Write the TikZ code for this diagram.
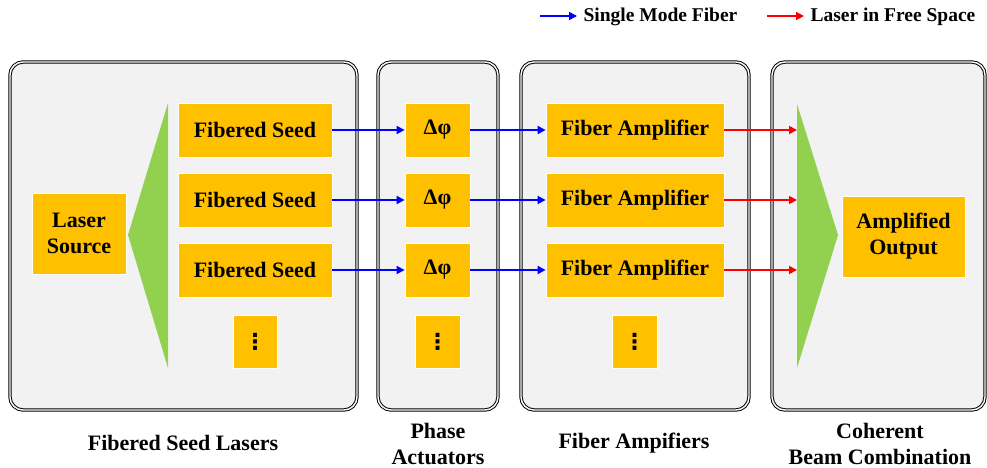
\documentclass[tikz,border=0pt]{standalone}
\usepackage{fontspec}
\setmainfont{Liberation Serif}
\newfontfamily\symfont{DejaVu Sans}
\usetikzlibrary{arrows.meta}
\definecolor{gold}{HTML}{FFC000}
\definecolor{leaf}{HTML}{92D050}
\definecolor{panel}{HTML}{F2F2F2}

\begin{document}
\begin{tikzpicture}[x=1pt,y=-1pt,
    font=\bfseries\fontsize{22}{26}\selectfont,
    stage/.style={draw=black, double=white, double distance=1.4pt, line width=1pt,
        fill=panel, rounded corners=13pt},
    unit/.style={fill=gold, draw=white, line width=0.8pt, align=center, inner sep=0pt},
    fiberarrow/.style={blue, line width=1.7pt, -{Triangle[length=8pt,width=8pt]}},
    freearrow/.style={red, line width=1.7pt, -{Triangle[length=8pt,width=8pt]}}]
    \useasboundingbox (0,0) rectangle (987,468);

    % panels
    \draw[stage] (10,62) rectangle (357,410);
    \draw[stage] (378,62) rectangle (498,410);
    \draw[stage] (521,62) rectangle (749,410);
    \draw[stage] (772,62) rectangle (985,410);

    % splitter and combiner
    \fill[leaf] (168,103) -- (168,368) -- (128,235) -- cycle;
    \fill[leaf] (797,104) -- (797,368) -- (838,235) -- cycle;
    \coordinate (comb) at (797,235);

    \node[unit, minimum width=94, minimum height=81] (source) at (79,233.5) {Laser\\Source};

    \node[unit, minimum width=154, minimum height=54] (seedA) at (255,130) {Fibered Seed};
    \node[unit, minimum width=154, minimum height=54] (seedB) at (255,200) {Fibered Seed};
    \node[unit, minimum width=154, minimum height=54] (seedC) at (255,270) {Fibered Seed};
    \node[unit, minimum width=44, minimum height=53] (seedD) at (255,341.5) {\symfont ⋮};

    \node[unit, minimum width=65, minimum height=54] (phaseA) at (437.5,130) {Δφ};
    \node[unit, minimum width=65, minimum height=54] (phaseB) at (437.5,200) {Δφ};
    \node[unit, minimum width=65, minimum height=54] (phaseC) at (437.5,270) {Δφ};
    \node[unit, minimum width=45, minimum height=53] (phaseD) at (437.5,341.5) {\symfont ⋮};

    \node[unit, minimum width=178, minimum height=54] (ampA) at (635,130) {Fiber Amplifier};
    \node[unit, minimum width=178, minimum height=54] (ampB) at (635,200) {Fiber Amplifier};
    \node[unit, minimum width=178, minimum height=54] (ampC) at (635,270) {Fiber Amplifier};
    \node[unit, minimum width=45, minimum height=53] (ampD) at (634.5,341.5) {\symfont ⋮};

    \node[unit, minimum width=123, minimum height=81] (output) at (903.5,236.5) {Amplified\\Output};

    \draw[fiberarrow] (seedA) -- (phaseA);
    \draw[fiberarrow] (seedB) -- (phaseB);
    \draw[fiberarrow] (seedC) -- (phaseC);
    \draw[fiberarrow] (phaseA) -- (ampA);
    \draw[fiberarrow] (phaseB) -- (ampB);
    \draw[fiberarrow] (phaseC) -- (ampC);
    \draw[freearrow] (ampA) -- (ampA -| comb);
    \draw[freearrow] (ampB) -- (ampB -| comb);
    \draw[freearrow] (ampC) -- (ampC -| comb);

    % legend
    \coordinate (smfA) at (540,16);
    \coordinate (smfB) at (577,16);
    \coordinate (fsA) at (767,16);
    \coordinate (fsB) at (804,16);
    \draw[fiberarrow] (smfA) -- (smfB);
    \draw[freearrow] (fsA) -- (fsB);
    \node[anchor=west, font=\bfseries\fontsize{19.5}{22}\selectfont] (smf) at (580,16.5) {Single Mode Fiber};
    \node[anchor=west, font=\bfseries\fontsize{19.5}{22}\selectfont] (fs) at (807,16.5) {Laser in Free Space};

    % captions
    \node (capA) at (183,443) {Fibered Seed Lasers};
    \node[align=center] (capB) at (438,444) {Phase\\Actuators};
    \node (capC) at (634,443) {Fiber Ampifiers};
    \node[align=center] (capD) at (880,444) {Coherent\\Beam Combination};
\end{tikzpicture}
\end{document}
